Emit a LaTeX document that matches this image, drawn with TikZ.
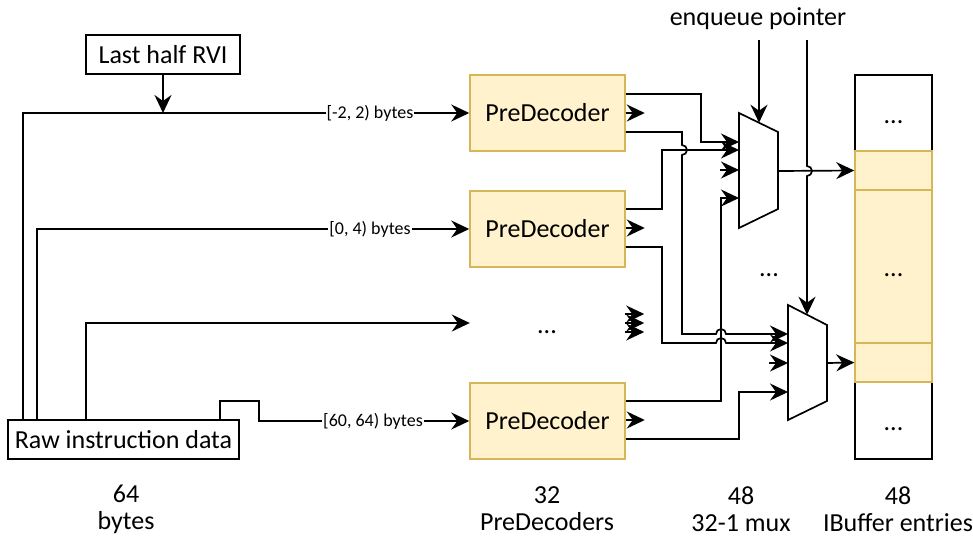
\documentclass[tikz,border=0pt]{standalone}
\usepackage{fontspec}
\setmainfont{Carlito}
\usetikzlibrary{arrows.meta}
\definecolor{pdfill}{HTML}{FFF2CC}
\definecolor{pdline}{HTML}{D6B656}
\begin{document}
\begin{tikzpicture}[x=1pt,y=-1pt,
  wire/.style={line width=1.7pt, line join=miter},
  arr/.style={wire,-{Stealth[length=18pt,width=17pt,inset=6pt]}},
  box/.style={draw, line width=1.5pt, inner sep=0pt, font=\fontsize{26}{30}\selectfont},
  pd/.style={draw=pdline, fill=pdfill, line width=1.5pt, minimum width=155pt, minimum height=76pt, inner sep=0pt, font=\fontsize{26}{30}\selectfont},
  ghost/.style={minimum width=155pt, minimum height=76pt, inner sep=0pt},
  ibw/.style={draw, line width=1.5pt, fill=white, minimum width=77pt, inner sep=0pt},
  iby/.style={draw=pdline, line width=1.5pt, fill=pdfill, minimum width=77pt, inner sep=0pt},
  mux/.style={draw, line width=1.7pt, fill=white, line join=miter},
  lbl/.style={font=\fontsize{26}{27}\selectfont, align=center, inner sep=0pt},
  small/.style={font=\fontsize{18}{20}\selectfont, fill=white, inner sep=1pt}
]
\useasboundingbox (0,0) rectangle (973,538);

% boxes
\node[box, minimum width=154pt, minimum height=39pt] (rvi) at (163,54.5) {Last half RVI};
\node[box, minimum width=231pt, minimum height=39pt] (raw) at (123.5,439.5) {Raw instruction data};
\node[pd] (pd1) at (547.5,113) {PreDecoder};
\node[pd] (pd2) at (547.5,229) {PreDecoder};
\node[ghost] (pd3) at (547.5,323) {};
\node[pd] (pd4) at (547.5,421) {PreDecoder};

% IBuffer
\node[ibw, minimum height=76pt] (ib1) at (893.5,113) {};
\node[ibw, minimum height=77pt] (ib5) at (893.5,420.5) {};
\node[iby, minimum height=39pt] (ib2) at (893.5,170.5) {};
\node[iby, minimum height=153pt] (ib3) at (893.5,266.5) {};
\node[iby, minimum height=39pt] (ib4) at (893.5,362.5) {};

% dots
\node[lbl] (d1) at (893.5,122) {...};
\node[lbl] (d3) at (893.5,275) {...};
\node[lbl] (d5) at (893.5,429) {...};
\node[lbl] (dp) at (547,332) {...};
\node[lbl] (dm) at (769,275) {...};

% muxes
\draw[mux] (739,113) coordinate (m1a) -- (778,132) coordinate (m1b) -- (778,209) -- (739,228) -- cycle;
\draw[mux] (788,305) coordinate (m2a) -- (827,325) coordinate (m2b) -- (827,401) -- (788,420) -- cycle;
\coordinate (m1out) at (778,171);
\coordinate (m2out) at (827,363);

% labels
\node[lbl] (enq) at (758,19) {enqueue pointer};
\node[lbl] (b1) at (126,509) {64\\bytes};
\node[lbl] (b2) at (547,509) {32\\PreDecoders};
\node[lbl] (b3) at (741,509) {48\\32-1 mux};
\node[lbl] (b4) at (898,509) {48\\IBuffer entries};

% inputs to predecoders
\draw[arr] (rvi.south) -- (163,113);
\draw[arr] (raw.north -| 23,0) -- (23,113) -- (pd1.west);
\draw[arr] (raw.north -| 37,0) |- (pd2.west);
\draw[arr] (raw.north -| 86,0) |- (pd3.west);
\draw[arr] (raw.north -| 220,0) -- (220,401) -- (259,401) -- (259,421) -- (pd4.west);
\node[small] at (370,113) {[-2, 2) bytes};
\node[small] at (370,229) {[0, 4) bytes};
\node[small] at (373,421) {[60, 64) bytes};

% predecoder stubs
\foreach \n/\y in {pd1/113, pd2/228, pd4/420}{
  \draw[arr] (\n.east |- 0,\y) -- ++(19,0);
}
\foreach \y in {314,323,332}{
  \draw[arr] (pd3.east |- 0,\y) -- ++(19,0);
}

% predecoder outputs
\draw[arr] (pd1.east |- 0,94) -- (701,94) -- (701,142) -- (m1a |- 0,142);
\draw[arr] (pd2.east |- 0,209) -- (662,209) -- (662,150) -- (m1a |- 0,150);
\draw[arr] (pd4.east |- 0,401) -- (721,401) -- (721,198) -- (m1a |- 0,198);
\draw[arr] (720,170) -- (m1a |- 0,170);

\draw[arr] (pd1.east |- 0,132) -- (682,132) -- (682,145) arc[start angle=-90,end angle=90,radius=5] -- (682,334) -- (716,334) arc[start angle=180,end angle=360,radius=5] -- (m2a |- 0,334);
\draw[arr] (pd2.east |- 0,247) -- (662,247) -- (662,343) -- (716,343) arc[start angle=180,end angle=360,radius=5] -- (m2a |- 0,343);
\draw[arr] (pd4.east |- 0,439) -- (739,439) -- (739,392) -- (m2a |- 0,392);
\draw[arr] (769,363) -- (m2a |- 0,363);

% enqueue pointer
\draw[arr] (759,40) -- (759,122.7);
\draw[arr] (807,40) -- (807,166) arc[start angle=-90,end angle=90,radius=5] -- (807,314.7);

% mux outputs
\draw[arr] (m1out) -- (ib2.west);
\draw[arr] (m2out) -- (ib4.west);
\end{tikzpicture}
\end{document}
